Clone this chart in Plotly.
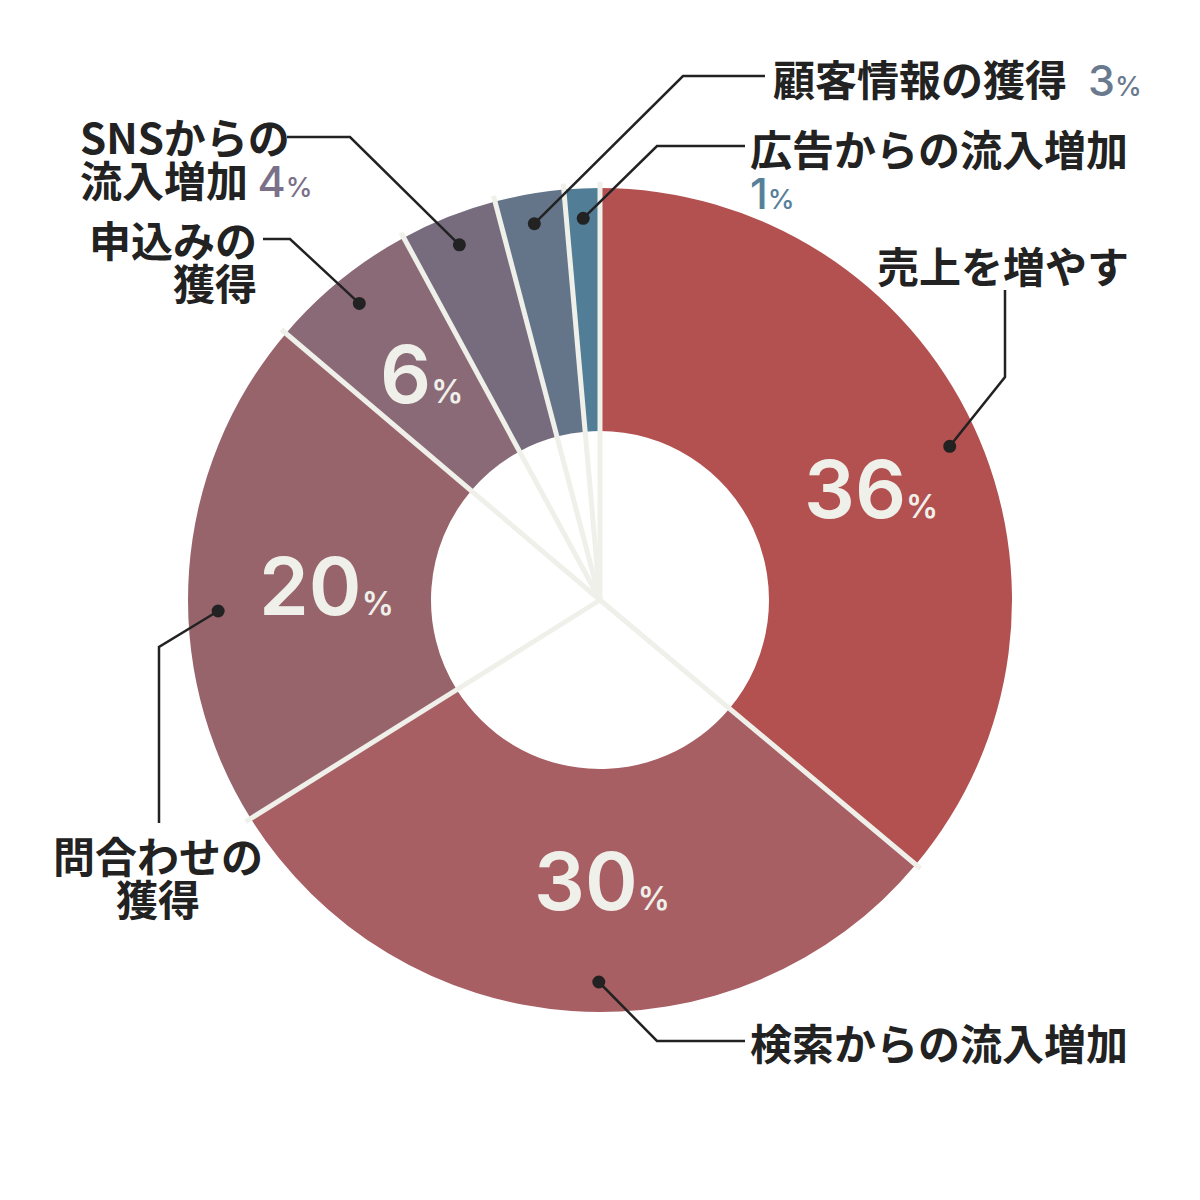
import math
import plotly.graph_objects as go

# ---------------- data ----------------
categories = ["売上を増やす", "検索からの流入増加", "問合わせの獲得", "申込みの獲得",
              "SNSからの流入増加", "顧客情報の獲得", "広告からの流入増加"]
values = [36.1, 30.0, 20.1, 5.9, 3.8, 2.7, 1.4]
pct_labels = ["36", "30", "20", "6", "4", "3", "1"]

# ---------------- style ----------------
colors = ["#b35050", "#a85f63", "#98646c", "#8a6a76", "#766c7e", "#657589", "#527d96"]
pct_colors = ["#b35050", "#a85f63", "#98646c", "#8a6a76", "#7a7088", "#697a8e", "#56809a"]
SEP_COLOR = "#f0f0ea"
DARK = "#222222"
JP_FONT = "Noto Sans CJK JP"
NUM_FONT = "Inter"

W = H = 1200
OFF = 8  # page body margin offset
CX, CY = 600, 600
R_OUT = 412
R_IN = 169
R_DOT = 382
dot_frac = [0.51, 0.465, 0.42, 0.5, 0.5, 0.5, 0.5]
text_frac = [0.52, 0.46, 0.485, 0.54]
text_r = [293, 281, 274, 288]


def px(x):
    return (x - OFF) / W


def py(y):
    return 1 - (y - OFF) / H


def polar(angle_deg, r):
    a = math.radians(angle_deg)
    return CX + r * math.sin(a), CY - r * math.cos(a)


total = sum(values)
bounds = [0.0]
for v in values:
    bounds.append(bounds[-1] + v / total * 360.0)

fig = go.Figure(go.Pie(
    values=values, labels=categories, sort=False, direction="clockwise", rotation=0,
    hole=R_IN / R_OUT, marker=dict(colors=colors, line=dict(width=0)),
    textinfo="none", hoverinfo="skip", showlegend=False,
    domain=dict(x=[px(CX - R_OUT), px(CX + R_OUT)], y=[py(CY + R_OUT), py(CY - R_OUT)]),
))

shapes = []
# separators from the centre through the ring
for b in bounds[:-1]:
    x2, y2 = polar(b, R_OUT + 6)
    shapes.append(dict(type="line", xref="paper", yref="paper",
                       x0=px(CX), y0=py(CY), x1=px(x2), y1=py(y2),
                       line=dict(color=SEP_COLOR, width=5)))

annotations = []

# inner percentage labels (first four segments)
for i in range(4):
    ang = bounds[i] + text_frac[i] * (bounds[i + 1] - bounds[i])
    tx, ty = polar(ang, text_r[i])
    annotations.append(dict(
        x=px(tx), y=py(ty), xref="paper", yref="paper", showarrow=False,
        xanchor="center", yanchor="middle",
        text=f"{pct_labels[i]}<span style='font-size:32px'>%</span>",
        font=dict(family=NUM_FONT, size=80, color=SEP_COLOR, weight=600),
    ))

# leader lines: elbow and end points (layout positions)
leaders = [
    [(1005, 377), (1005, 290)],
    [(657, 1041), (745, 1041)],
    [(159, 647), (159, 823)],
    [(290, 239), (263, 239)],
    [(350, 137), (287, 137)],
    [(683, 76), (765, 76)],
    [(657, 146), (745, 146)],
]

for i, pts in enumerate(leaders):
    ang = bounds[i] + dot_frac[i] * (bounds[i + 1] - bounds[i])
    dx, dy = polar(ang, R_DOT)
    path = f"M {px(dx)},{py(dy)}"
    for (x, y) in pts:
        path += f" L {px(x)},{py(y)}"
    shapes.append(dict(type="path", xref="paper", yref="paper", path=path,
                       line=dict(color=DARK, width=2.5)))
    rr = 6.5
    shapes.append(dict(type="circle", xref="paper", yref="paper",
                       x0=px(dx - rr), x1=px(dx + rr), y0=py(dy + rr), y1=py(dy - rr),
                       fillcolor=DARK, line=dict(width=0)))


def pct_span(i, big=43, small=27):
    c = pct_colors[i]
    return (f"<span style='font-family:{NUM_FONT};font-weight:500;color:{c};font-size:{big}px'>{pct_labels[i]}</span>"
            f"<span style='font-family:{NUM_FONT};font-weight:500;color:{c};font-size:{small}px'>%</span>")


def jp(s):
    return f"<span style='font-size:42px'>{s}</span>"


# outer labels: (lines, x, y_center, anchor)
label_blocks = [
    ([jp("売上を増やす")], 1003, 265, "center"),
    ([jp("検索からの流入増加")], 748, 1041, "left"),
    ([jp("問合わせの"), jp("獲得")], 158, 876, "center"),
    ([jp("申込みの"), jp("獲得")], 259, 260, "right"),
    ([jp("SNSからの"), jp("流入増加 ") + pct_span(4)], 78, 157, "left"),
    ([jp("顧客情報の獲得\u2002") + pct_span(5)], 771, 77, "left"),
    ([jp("広告からの流入増加"), pct_span(6)], 748, 168, "left"),
]

for lines, x, y, xa in label_blocks:
    annotations.append(dict(
        x=px(x), y=py(y), xref="paper", yref="paper", showarrow=False,
        xanchor=xa, yanchor="middle", align=xa, text="<br>".join(lines),
        font=dict(family=JP_FONT, size=33, color=DARK, weight=700),
    ))

fig.update_layout(
    width=W, height=H, margin=dict(l=0, r=0, t=0, b=0),
    paper_bgcolor="white", plot_bgcolor="white",
    shapes=shapes, annotations=annotations,
)

fig.write_html("out.html")
